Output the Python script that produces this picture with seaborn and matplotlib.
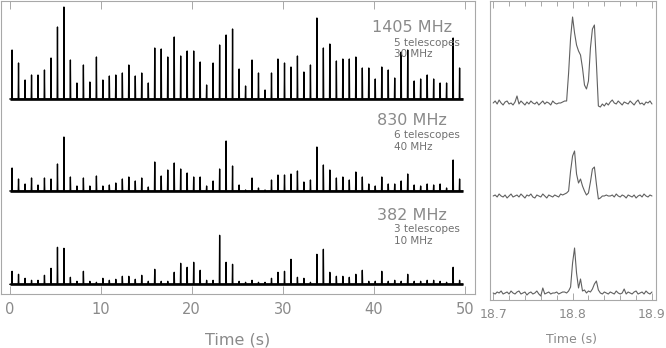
import numpy as np
import pandas as pd
import matplotlib
matplotlib.use("Agg")
import matplotlib.pyplot as plt
import seaborn as sns
from matplotlib.ticker import MultipleLocator

# ---------------- data ----------------
pulse_times = [0.26, 0.97, 1.69, 2.40, 3.11, 3.82, 4.54, 5.25, 5.96, 6.67,
               7.39, 8.10, 8.81, 9.53, 10.24, 10.95, 11.66, 12.38, 13.09, 13.80,
               14.51, 15.23, 15.94, 16.65, 17.37, 18.08, 18.79, 19.50, 20.22, 20.93,
               21.64, 22.35, 23.07, 23.78, 24.49, 25.21, 25.92, 26.63, 27.34, 28.06,
               28.77, 29.48, 30.20, 30.91, 31.62, 32.33, 33.05, 33.76, 34.47, 35.18,
               35.90, 36.61, 37.32, 38.04, 38.75, 39.46, 40.17, 40.89, 41.60, 42.31,
               43.02, 43.74, 44.45, 45.16, 45.88, 46.59, 47.30, 48.01, 48.73, 49.44]

h1405 = [49, 36, 19, 24, 24, 29, 41, 72, 92, 39, 16, 34, 17, 42, 19, 23, 24, 26, 34, 23,
         26, 16, 51, 50, 42, 62, 43, 48, 48, 37, 14, 36, 54, 64, 70, 30,
         13, 39, 26, 9, 26, 40, 36, 32, 43, 27, 34, 81, 51, 55, 38, 40, 40, 42, 31, 31,
         20, 32, 29, 21, 47, 49, 18, 20, 24, 20, 16, 16, 61, 31]
h830 = [23, 12, 7, 13, 6, 13, 12, 27, 54, 14, 5, 13, 5, 15, 5, 6, 8, 12, 14, 10,
        13, 4, 29, 15, 21, 28, 22, 18, 14, 14, 5, 10, 22, 50, 25, 6,
        1, 13, 3, 1, 11, 16, 16, 17, 20, 9, 11, 44, 26, 21, 13, 14, 11, 19, 14, 7,
        5, 14, 7, 7, 10, 17, 6, 5, 7, 6, 7, 3, 31, 12]
h382 = [13, 10, 6, 4, 4, 9, 16, 37, 36, 7, 3, 13, 3, 2, 6, 4, 5, 8, 8, 5,
        9, 3, 15, 3, 3, 12, 21, 17, 22, 14, 4, 4, 49, 22, 20, 3,
        2, 4, 2, 2, 6, 12, 13, 25, 7, 6, 2, 30, 35, 12, 8, 8, 7, 10, 14, 3,
        3, 13, 3, 4, 3, 10, 3, 3, 4, 4, 3, 2, 17, 4]

bands = ["1405 MHz", "830 MHz", "382 MHz"]
telescopes = ["5 telescopes", "6 telescopes", "3 telescopes"]
bandwidths = ["30 MHz", "40 MHz", "10 MHz"]

# single pulse near 18.8 s, sampled every 2.5 ms from 18.7 s to 18.9 s
zoom_start, zoom_stop, n_samples = 18.7, 18.9, 81
prof1405 = [0, 2, -1, 3, 0, -2, 1, 2, -1, 0, -2, 1,
            7,
            -1, 2, 0, -2, 1, -1, 2, 0, -1, 1, -2, 0, 2, -1, 1, 0, -2, 2, 0, -1, 0, 0, 1,
            2, 2,
            30, 65, 86, 70, 58, 52, 48, 35, 18, 14, 22, 55, 74, 78, 40, -3,
            -4, -1, -3, 0, -2, 1, 3, 0, -1, 2, 0, -2, 1, 0, -1, 2, 0, -2, 1, 3,
            -1, 0, -2, 1, 0, 2, -1]
prof830 = [0, 1, -1, 2, 0, -1, 1, -2, 0, 2, -1, 0, 1, -1, 2, 0, -2, 1, 0, 2,
           -1, -2, 1, 0, -1, 2, 0, -2, 1, 0, -1, 1, 0, -1, 2, 1, 2, 3,
           5, 25, 40, 45, 22, 13, 17, 10, 5, 1, 3, 14, 27, 29, 12, -3,
           -2, 0, 0, 1, 0, 0, 1, -1, 2, 0, -1, 1, 0, -2, 1, 0, -1, 1, -2, 0,
           1, -1, 2, 0, -1, 1, 0]
prof382 = [0, -1, 1, 0, 2, -1, 0, 1, -1, 2, 0, -1, 1, 2, -1, 0, 1, -2, 0, 1,
           -1, 0, 2, -1, -3, 5, -1, 0, 1, -1, 0, 0, 1, -1, 0, 1, 1, 0, 2,
           6, 30, 45, 20, 5, 14, 2, 3, 0, 2, 1, 4, 9, 12, 3, 0,
           -1, 1, 0, -1, 1, 0, -1, 2, 0, -1, 0, 4, -1, 1, 0, -1, 1, 2, -1, 0,
           1, -1, 2, 0, -1, 1]

left_ticks = [0, 10, 20, 30, 40, 50]
right_ticks = [18.7, 18.8, 18.9]
right_tick_labels = ["18.7", "18.8", "18.9"]

# ---------------- figure ----------------
sns.set_style("white")
plt.rcParams["font.family"] = ["DejaVu Sans"]

W, H = 666, 348
fig = plt.figure(figsize=(W / 100, H / 100), dpi=100)


def px_axes(x0, y0, x1, y1):
    return fig.add_axes([x0 / W, 1 - y1 / H, (x1 - x0) / W, (y1 - y0) / H])


axL = px_axes(0.6, 1.0, 474.7, 294.0)
axR = px_axes(490.0, 1.0, 655.7, 300.0)

spine_col = "#a8a8a8"
text_col = "#8a8a8a"

# left panel: pulse trains
offsets_left = [195.0, 103.0, 9.7]
half = 0.035
t_end = 49.8
rows = []
for band, heights, off in zip(bands, [h1405, h830, h382], offsets_left):
    rows.append((band, 0.0, off))
    for t, v in zip(pulse_times, heights):
        rows += [(band, t - half, off), (band, t, off + v), (band, t + half, off)]
    rows.append((band, t_end, off))
dfL = pd.DataFrame(rows, columns=["band", "t", "y"])
sns.lineplot(data=dfL, x="t", y="y", units="band", estimator=None, sort=False,
             color="black", lw=0.95, ax=axL)
for off in offsets_left:
    axL.plot([0.0, t_end], [off, off], color="black", lw=1.9, solid_capstyle="butt")

# right panel: single-pulse profiles
t_grid = np.linspace(zoom_start, zoom_stop, n_samples)
offsets_right = [197.0, 104.0, 7.0]
rowsR = []
for band, prof, off in zip(bands, [prof1405, prof830, prof382], offsets_right):
    for t, v in zip(t_grid, prof):
        rowsR.append((band, t, off + v))
dfR = pd.DataFrame(rowsR, columns=["band", "t", "y"])
sns.lineplot(data=dfR, x="t", y="y", units="band", estimator=None, sort=False,
             color="#606060", lw=0.8, ax=axR)

# axes styling
for ax in (axL, axR):
    for s in ax.spines.values():
        s.set_color(spine_col)
        s.set_linewidth(0.8)
        s.set_visible(True)
    ax.set_xlabel("")
    ax.set_ylabel("")
    ax.set_yticks([])
    ax.tick_params(axis="x", which="both", direction="in", top=True, bottom=True,
                   color=spine_col, width=0.7, labelcolor=text_col)

axL.set_xlim(-1.0, 51.1)
axL.set_ylim(0, 293)
axL.set_xticks(left_ticks)
axL.set_xticklabels([str(v) for v in left_ticks])
axL.tick_params(axis="x", length=6, pad=6, labelsize=10.5)

axR.set_xlim(18.696, 18.9047)
axR.set_ylim(0, 299)
axR.set_xticks(right_ticks)
axR.set_xticklabels(right_tick_labels)
axR.xaxis.set_minor_locator(MultipleLocator(0.02))
axR.tick_params(axis="x", which="major", length=5, pad=6, labelsize=9)
axR.tick_params(axis="x", which="minor", length=3.5)

# labels
fig.text(237.5 / W, 1 - 340 / H, "Time (s)", ha="center", va="center",
         fontsize=11.5, color=text_col)
fig.text(571 / W, 1 - 340 / H, "Time (s)", ha="center", va="center",
         fontsize=9, color=text_col)

band_y = [27, 121, 215]
tel_y = [43, 135, 229]
bw_y = [54, 147, 241]
for b, tl, bw, y0, y1, y2 in zip(bands, telescopes, bandwidths, band_y, tel_y, bw_y):
    fig.text(412 / W, 1 - y0 / H, b, ha="center", va="center", fontsize=11.5, color=text_col)
    fig.text(394 / W, 1 - y1 / H, tl, ha="left", va="center", fontsize=7.5, color="#707070")
    fig.text(394 / W, 1 - y2 / H, bw, ha="left", va="center", fontsize=7.5, color="#707070")

fig.savefig("out.png", dpi=100)
